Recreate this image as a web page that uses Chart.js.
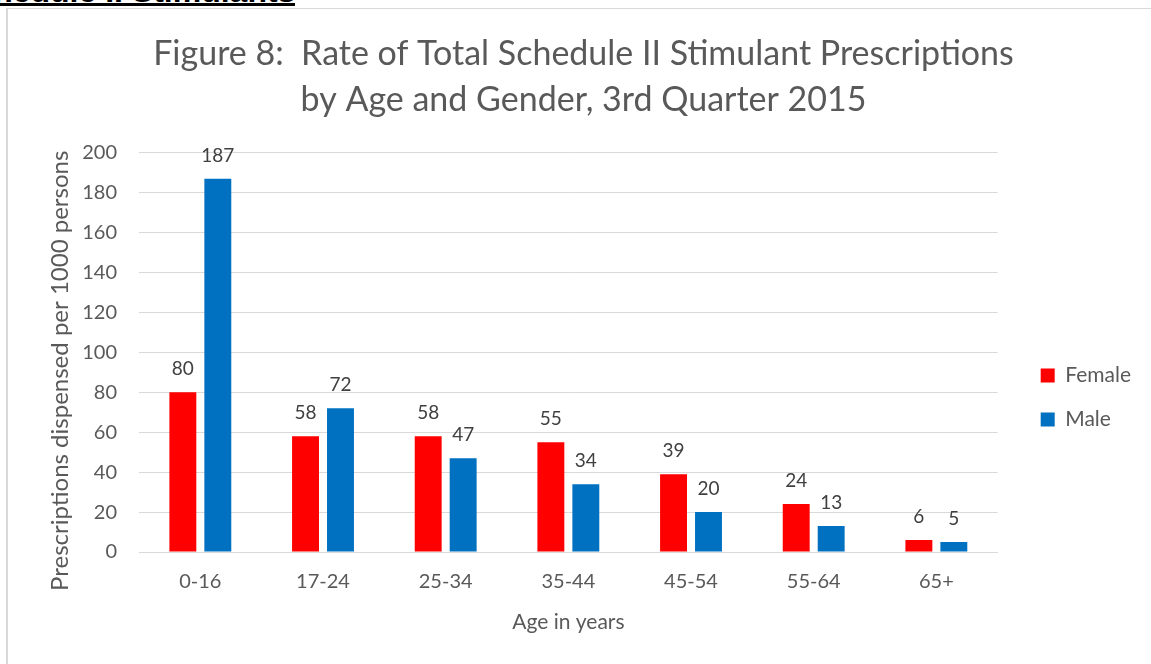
<!DOCTYPE html>
<html>
<head>
<meta charset="utf-8">
<script src="https://cdn.jsdelivr.net/npm/chart.js@4.4.0/dist/chart.umd.min.js"></script>
<style>
    body { margin: 0; background: white; overflow: hidden; }
    #heading {
        position: absolute; left: -46px; top: -23px;
        font: bold 32px "Liberation Sans", Arial, sans-serif;
        line-height: 28px; height: 26px; overflow: visible; color: black;
        border-bottom: 3px solid black; white-space: nowrap;
    }
    #frame {
        position: absolute; left: 6px; top: 8px; width: 1200px; height: 700px;
        border-left: 2px solid #d9d9d9; border-top: 1px solid #d9d9d9;
    }
    #stimChart { position: absolute; left: 0; top: 0; }
</style>
</head>
<body>
<div id="heading">Schedule II Stimulants</div>
<div id="frame"></div>
<canvas id="stimChart" width="1151" height="664"></canvas>
<script>
const ageGroups = ['0-16', '17-24', '25-34', '35-44', '45-54', '55-64', '65+'];
const femaleRates = [80, 58, 58, 55, 39, 24, 6];
const maleRates = [187, 72, 47, 34, 20, 13, 5];

const fontName = 'Lato, "Open Sans", sans-serif';

// draws the value over every bar
const barValues = {
    id: 'barValues',
    afterDatasetsDraw(chart) {
        let ctx = chart.ctx;
        ctx.save();
        ctx.font = '19px ' + fontName;
        ctx.fillStyle = '#404040';
        ctx.textAlign = 'center';
        ctx.textBaseline = 'middle';
        chart.data.datasets.forEach((ds, i) => {
            chart.getDatasetMeta(i).data.forEach((bar, j) => {
                ctx.fillText(ds.data[j], bar.x, bar.y - 23);
            });
        });
        ctx.restore();
    }
};

// move the legend a bit away from the plot and lower, like the original
const legendShift = {
    id: 'legendShift',
    afterLayout(chart) {
        chart.legend.left += 20;
        chart.legend.right += 20;
        chart.legend.top += 78;
        chart.legend.bottom += 78;
    }
};

let ctx = document.getElementById('stimChart').getContext('2d');

let stimChart = new Chart(ctx, {
    type: 'bar',
    data: {
        labels: ageGroups,
        datasets: [
            {
                label: 'Female',
                data: femaleRates,
                backgroundColor: '#ff0000',
                categoryPercentage: 0.57,
                barPercentage: 0.77
            },
            {
                label: 'Male',
                data: maleRates,
                backgroundColor: '#0070c0',
                categoryPercentage: 0.57,
                barPercentage: 0.77
            }
        ]
    },
    options: {
        responsive: false,
        animation: false,
        layout: {
            padding: { left: 46, right: 30, top: 0, bottom: 25 }
        },
        plugins: {
            title: {
                display: true,
                text: ['Figure 8:  Rate of Total Schedule II Stimulant Prescriptions',
                       'by Age and Gender, 3rd Quarter 2015'],
                color: '#595959',
                font: { family: fontName, size: 34, weight: 'normal', lineHeight: 1.35 },
                padding: { top: 31, bottom: 30 }
            },
            legend: {
                position: 'right',
                labels: {
                    color: '#595959',
                    font: { family: fontName, size: 21 },
                    boxWidth: 14,
                    boxHeight: 14,
                    padding: 23
                }
            },
            tooltip: { enabled: false }
        },
        scales: {
            x: {
                afterFit: function (scale) { scale.height = 87; },
                grid: { display: false, drawTicks: false },
                border: { color: '#d9d9d9', width: 1 },
                ticks: {
                    color: '#595959',
                    font: { family: fontName, size: 20 },
                    padding: 18
                },
                title: {
                    display: true,
                    text: 'Age in years',
                    color: '#595959',
                    font: { family: fontName, size: 21 },
                    padding: { top: 0, bottom: 4 }
                }
            },
            y: {
                afterFit: function (scale) { scale.width = 93; },
                min: 0,
                max: 200,
                grid: { color: '#d9d9d9', drawTicks: false },
                border: { display: false },
                ticks: {
                    stepSize: 20,
                    color: '#595959',
                    font: { family: fontName, size: 20 },
                    padding: 22
                },
                title: {
                    display: true,
                    // trailing spaces push the text a little lower, as in the original
                    text: 'Prescriptions dispensed per 1000 persons      ',
                    color: '#595959',
                    font: { family: fontName, size: 24 },
                    padding: { top: 0, bottom: 4 }
                }
            }
        }
    },
    plugins: [barValues, legendShift]
});
</script>
</body>
</html>
